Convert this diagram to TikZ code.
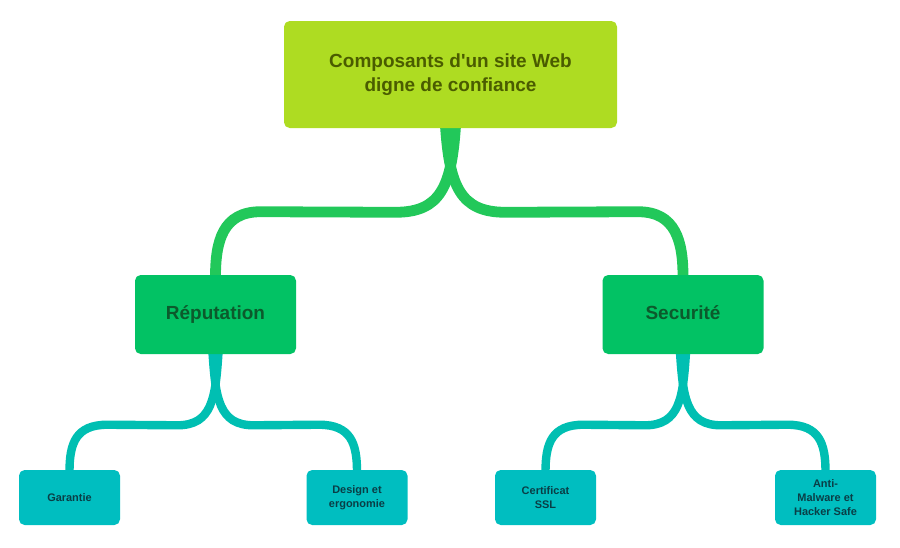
\documentclass[tikz,border=0pt]{standalone}
\usepackage{fontspec}
\setmainfont{Liberation Sans}[Ligatures=TeXOff]
\usetikzlibrary{calc,backgrounds}
\definecolor{lima}{HTML}{AEDC22}
\definecolor{limatexto}{HTML}{4A5C00}
\definecolor{verde}{HTML}{02C264}
\definecolor{verdetexto}{HTML}{0C5A2C}
\definecolor{verdelinea}{HTML}{22C85A}
\definecolor{turquesa}{HTML}{00BEC0}
\definecolor{turquesatexto}{HTML}{0A3E46}
\definecolor{turquesalinea}{HTML}{00BFB2}
\begin{document}
\begin{tikzpicture}[x=0.025cm, y=-0.025cm]
    % Estilos
    \tikzstyle{raiz} = [rectangle, rounded corners=4pt, fill=lima, text=limatexto, font=\bfseries\fontsize{13.5}{17.5}\selectfont, align=center, minimum width=333*0.025cm, minimum height=107*0.025cm]
    \tikzstyle{rama} = [rectangle, rounded corners=4pt, fill=verde, text=verdetexto, font=\bfseries\fontsize{13.5}{17}\selectfont, align=center, minimum width=161*0.025cm, minimum height=79*0.025cm, text height=10pt, text depth=3pt]
    \tikzstyle{hoja} = [rectangle, rounded corners=4pt, fill=turquesa, text=turquesatexto, font=\bfseries\fontsize{7.8}{10}\selectfont, align=center, minimum width=101*0.025cm, minimum height=55*0.025cm]
    \tikzstyle{enlace} = [line width=0.27cm, draw=verdelinea]
    \tikzstyle{subenlace} = [line width=0.21cm, draw=turquesalinea]

    \useasboundingbox (0,0) rectangle (900,547);

    % Nodos
    \node (raiz) [raiz] at (450.5,74.5) {Composants d'un site Web\\digne de confiance};
    \node (rep) [rama] at (215.5,314.5) {Réputation};
    \node (sec) [rama] at (683,314.5) {Securité};
    \node (gar) [hoja] at (69.5,497.5) {Garantie};
    \node (dis) [hoja] at (357,497.5) {Design et\\ergonomie};
    \node (ssl) [hoja] at (545.5,497.5) {Certificat\\SSL};
    \node (mal) [hoja] at (825.5,497.5) {Anti-\\Malware et\\Hacker Safe};

    % Enlaces
    \begin{scope}[on background layer]
    \draw [enlace] ($(raiz.south)+(5,-2)$) .. controls +(-4,60) and +(45,0) .. ($(raiz.south)+(-55,84)$)
        -- ($(rep.north)+(45,-63)$) .. controls +(-38,0) and +(0,-35) .. ($(rep.north)+(0,2)$);
    \draw [enlace] ($(raiz.south)+(-5,-2)$) .. controls +(4,60) and +(-45,0) .. ($(raiz.south)+(55,84)$)
        -- ($(sec.north)+(-45,-63)$) .. controls +(38,0) and +(0,-35) .. ($(sec.north)+(0,2)$);

    \draw [subenlace] ($(rep.south)+(3,-2)$) .. controls +(-3,45) and +(35,0) .. ($(rep.south)+(-38,71)$)
        -- ($(gar.north)+(38,-45)$) .. controls +(-32,0) and +(0,-28) .. ($(gar.north)+(0,2)$);
    \draw [subenlace] ($(rep.south)+(-3,-2)$) .. controls +(3,45) and +(-35,0) .. ($(rep.south)+(38,71)$)
        -- ($(dis.north)+(-38,-45)$) .. controls +(32,0) and +(0,-28) .. ($(dis.north)+(0,2)$);
    \draw [subenlace] ($(sec.south)+(3,-2)$) .. controls +(-3,45) and +(35,0) .. ($(sec.south)+(-38,71)$)
        -- ($(ssl.north)+(38,-45)$) .. controls +(-32,0) and +(0,-28) .. ($(ssl.north)+(0,2)$);
    \draw [subenlace] ($(sec.south)+(-3,-2)$) .. controls +(3,45) and +(-35,0) .. ($(sec.south)+(38,71)$)
        -- ($(mal.north)+(-38,-45)$) .. controls +(32,0) and +(0,-28) .. ($(mal.north)+(0,2)$);
    \end{scope}
\end{tikzpicture}
\end{document}
